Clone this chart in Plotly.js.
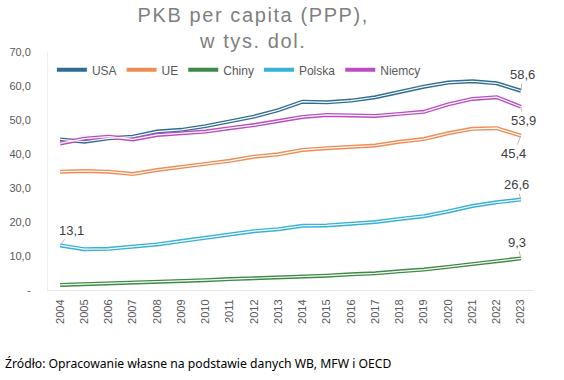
<!DOCTYPE html>
<html><head><meta charset="utf-8">
<script src="https://cdn.plot.ly/plotly-3.0.1.min.js"></script>
<style>
html,body{margin:0;padding:0;background:#fff;}
#chart{width:564px;height:380px;}
.gtitle{letter-spacing:1.6px;}
</style></head>
<body><div id="chart"></div>
<script>
const years = [2004,2005,2006,2007,2008,2009,2010,2011,2012,2013,2014,2015,2016,2017,2018,2019,2020,2021,2022,2023];
const usa    = [44.3,43.6,44.6,45.1,46.6,47.1,48.2,49.5,51.0,52.9,55.4,55.2,55.7,56.7,58.3,59.8,61.0,61.4,60.8,58.6];
const ue     = [34.8,35.0,34.8,34.1,35.3,36.1,37.1,38.0,39.2,39.9,41.2,41.7,42.2,42.5,43.6,44.4,46.1,47.4,47.6,45.4];
const chiny  = [1.5,1.7,1.9,2.2,2.4,2.6,2.9,3.2,3.4,3.7,3.9,4.2,4.6,4.9,5.5,6.0,6.8,7.7,8.5,9.3];
const polska = [13.1,12.0,12.1,12.7,13.4,14.4,15.4,16.5,17.3,17.9,18.9,19.0,19.4,20.0,20.9,21.7,23.1,24.7,25.8,26.6];
const niemcy = [43.1,44.5,45.1,44.3,45.6,46.1,46.6,47.6,48.5,49.7,50.9,51.5,51.3,51.2,51.8,52.4,54.6,56.2,56.7,53.9];
const seriesNames = ['USA','UE','Chiny','Polska','Niemcy'];
const seriesData = [usa, ue, chiny, polska, niemcy];
const colors = ['#2f6e92','#ee8d55','#3c8a45','#37b1d9','#bb4cc2'];
const yTickVals = [0,10,20,30,40,50,60,70];
const yTickText = ['-','10,0','20,0','30,0','40,0','50,0','60,0','70,0'];

const traces = [];
seriesData.forEach((d,i)=>{
  traces.push({x:years,y:d,type:'scatter',mode:'lines',name:seriesNames[i],
    line:{color:colors[i],width:4},legendgroup:seriesNames[i],hoverinfo:'skip'});
});
seriesData.forEach((d,i)=>{
  traces.push({x:years,y:d,type:'scatter',mode:'lines',name:seriesNames[i]+'_in',
    line:{color:'#ffffff',width:1.2},legendgroup:seriesNames[i],showlegend:false,hoverinfo:'skip'});
});

const fmt = v => v.toFixed(1).replace('.',',');
const lbl = (x,y,ax,ay)=>({x:x,y:y,xref:'x',yref:'y',text:fmt(y),showarrow:true,arrowhead:0,
  arrowwidth:0.8,arrowcolor:'#a6a6a6',ax:ax,ay:ay,font:{family:'Liberation Sans, Arial, sans-serif',size:13,color:'#404040'}});
const last = years.length-1;
const annotations = [
  lbl(years[last],usa[last],2,-16),
  lbl(years[last],niemcy[last],3,14),
  lbl(years[last],ue[last],-7,18),
  lbl(years[last],polska[last],-4,-15),
  lbl(years[last],chiny[last],-4,-16),
  lbl(years[0],polska[0],11,-15),
  {xref:'paper',yref:'paper',x:-0.093,y:-0.31,xanchor:'left',yanchor:'middle',showarrow:false,
   text:'Źródło: Opracowanie własne na podstawie danych WB, MFW i OECD',
   font:{family:'Noto Sans, sans-serif',size:12.2,color:'#000'}}
];

const layout = {
  width:564,height:380,
  margin:{l:48,r:31,t:52,b:90},
  paper_bgcolor:'#fff',plot_bgcolor:'#fff',
  title:{text:'PKB per capita (PPP),<br>w tys. dol.',xref:'container',yref:'container',x:0.449,xanchor:'center',
    y:0.942,yanchor:'middle',font:{family:'Liberation Sans, Arial, sans-serif',size:20,color:'#7f7f7f'}},
  showlegend:true,
  legend:{orientation:'h',x:0.008,xanchor:'left',y:0.925,yanchor:'middle',bgcolor:'rgba(0,0,0,0)',
    font:{family:'Liberation Sans, Arial, sans-serif',size:12,color:'#595959'},itemwidth:30,tracegroupgap:0},
  xaxis:{range:[2003.5,2023.5],tickvals:years,ticktext:years.map(String),tickangle:-90,
    tickfont:{family:'Liberation Sans, Arial, sans-serif',size:11,color:'#595959'},
    showgrid:false,zeroline:false,showline:true,linecolor:'#e6e6e6',linewidth:1,ticks:'',ticklabelstandoff:4},
  yaxis:{range:[0,70],tickvals:yTickVals,ticktext:yTickText,
    tickfont:{family:'Liberation Sans, Arial, sans-serif',size:11,color:'#595959'},
    showgrid:false,zeroline:false,showline:true,linecolor:'#eeeeee',linewidth:1,ticks:'',ticklabelstandoff:14},
  annotations:annotations
};
Plotly.newPlot('chart',traces,layout,{displayModeBar:false,staticPlot:true});
</script></body></html>
